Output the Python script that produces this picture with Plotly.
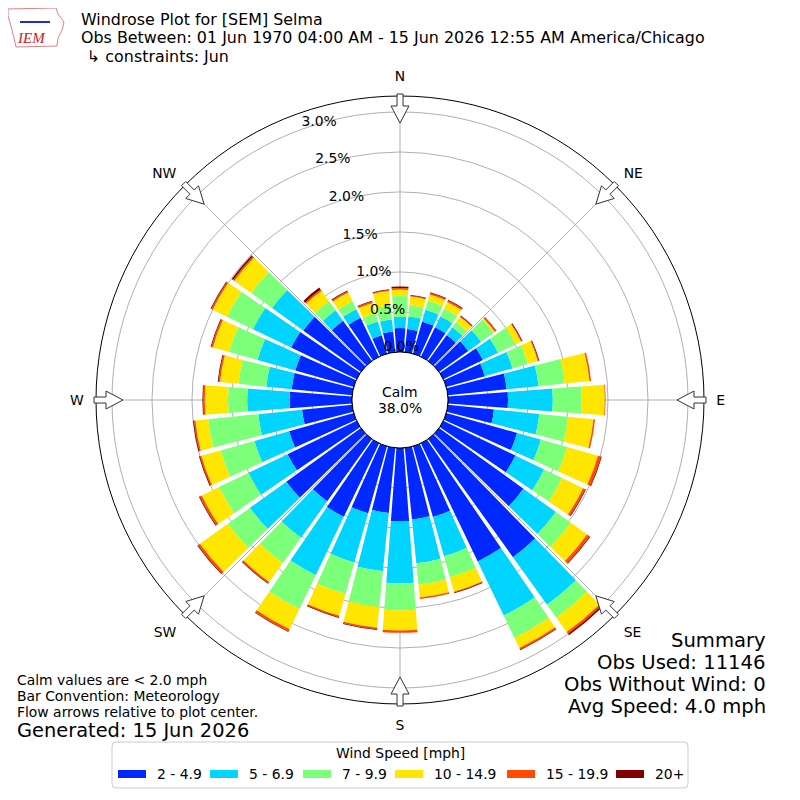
import numpy as np
import plotly.graph_objects as go

# wind direction bins (degrees, meteorological convention)
directions = list(range(0, 360, 10))
compass = ['N', 'NE', 'E', 'SE', 'S', 'SW', 'W', 'NW']
compass_deg = [0, 45, 90, 135, 180, 225, 270, 315]

speed_bins = ['2 - 4.9', '5 - 6.9', '7 - 9.9', '10 - 14.9', '15 - 19.9', '20+']
bin_colors = ['#0028ff', '#00d4ff', '#7cff79', '#ffe600', '#ff4a00', '#800000']

# percent of observations per direction for each speed bin
pct_2_5 = [0.30, 0.29, 0.42, 0.41, 0.40, 0.45, 0.55, 0.50, 0.74, 0.75, 0.58, 0.92,
           1.00, 1.30, 1.82, 1.64, 0.92, 0.90, 0.92, 0.82, 0.87, 1.02, 0.96, 1.15,
           0.96, 0.84, 0.63, 0.78, 0.76, 0.76, 0.91, 0.89, 0.62, 0.54, 0.24, 0.26]
pct_5_7 = [0.14, 0.16, 0.15, 0.15, 0.12, 0.20, 0.21, 0.36, 0.40, 0.56, 0.57, 0.31,
           0.40, 0.50, 0.73, 0.75, 0.51, 0.55, 0.77, 0.73, 0.64, 0.81, 0.56, 0.56,
           0.54, 0.45, 0.55, 0.53, 0.32, 0.49, 0.53, 0.48, 0.16, 0.12, 0.18, 0.15]
pct_7_10 = [0.26, 0.14, 0.12, 0.11, 0.08, 0.19, 0.24, 0.20, 0.33, 0.36, 0.36, 0.34,
            0.25, 0.23, 0.20, 0.31, 0.27, 0.27, 0.34, 0.45, 0.41, 0.47, 0.39, 0.34,
            0.41, 0.44, 0.63, 0.24, 0.35, 0.37, 0.36, 0.32, 0.14, 0.11, 0.11, 0.18]
pct_10_15 = [0.08, 0.11, 0.08, 0.09, 0.08, 0.02, 0.08, 0.13, 0.31, 0.29, 0.32, 0.40,
             0.29, 0.25, 0.22, 0.14, 0.19, 0.16, 0.25, 0.26, 0.28, 0.28, 0.29, 0.43,
             0.24, 0.25, 0.16, 0.29, 0.23, 0.21, 0.20, 0.26, 0.16, 0.12, 0.13, 0.18]
pct_15_20 = [0.02, 0.01, 0.02, 0.02, 0.01, 0.02, 0.01, 0.01, 0.02, 0.01, 0.02, 0.04,
             0.03, 0.04, 0.03, 0.02, 0.01, 0.02, 0.03, 0.02, 0.02, 0.03, 0.02, 0.03,
             0.03, 0.02, 0.02, 0.02, 0.02, 0.02, 0.02, 0.02, 0.02, 0.02, 0.02, 0.01]
pct_20up = [0.02, 0.01, 0.01, 0.01, 0.01, 0.005, 0.01, 0.01, 0.0, 0.0, 0.0, 0.01,
            0.01, 0.01, 0.02, 0.01, 0.01, 0.0, 0.0, 0.01, 0.01, 0.01, 0.01, 0.01,
            0.01, 0.01, 0.01, 0.01, 0.01, 0.01, 0.01, 0.02, 0.03, 0.01, 0.01, 0.01]

radial_ticks = [0.0, 0.5, 1.0, 1.5, 2.0, 2.5, 3.0]
radial_labels = ['%.1f%%' % t for t in radial_ticks]
calm_pct = 38.0

series = [pct_2_5, pct_5_7, pct_7_10, pct_10_15, pct_15_20, pct_20up]

FONT = 'DejaVu Sans'
W = H = 800
OFF = 8          # page body margin in the browser
CX, CY = 400, 400


def px(x, y):
    # screenshot pixel -> paper coordinate
    return (x - OFF) / W, 1 - (y - OFF) / H


fig = go.Figure()
for name, vals, col in zip(speed_bins, series, bin_colors):
    fig.add_trace(go.Barpolar(r=vals, theta=directions, name=name, width=8.6,
                              marker=dict(color=col, line=dict(width=0)),
                              showlegend=False))

# black edge of the calm hole
ring = np.linspace(0, 360, 361)
fig.add_trace(go.Scatterpolar(r=[0] * len(ring), theta=ring, mode='lines',
                              line=dict(color='black', width=1),
                              hoverinfo='skip', showlegend=False))

# radial tick labels, matplotlib style (along a line ~20 deg west of north)
fig.add_trace(go.Scatterpolar(r=radial_ticks, theta=[340] * len(radial_ticks),
                              mode='text', text=radial_labels,
                              textposition='top right',
                              textfont=dict(size=13.9, family=FONT, color='black'),
                              hoverinfo='skip', showlegend=False))

dx0, dy0 = px(96, 704)
dx1, dy1 = px(704, 96)
fig.update_layout(
    width=W, height=H,
    margin=dict(l=0, r=0, t=0, b=0),
    paper_bgcolor='white',
    font=dict(family=FONT, size=13.9, color='black'),
    barmode='stack',
    polar=dict(
        domain=dict(x=[dx0, dx1], y=[dy0, dy1]),
        bgcolor='white',
        hole=0.158,
        radialaxis=dict(range=[0, 3.2], tickvals=radial_ticks,
                        showticklabels=False, angle=110,
                        showline=False, ticks='', gridcolor='#b0b0b0',
                        gridwidth=1, layer='above traces'),
        angularaxis=dict(direction='clockwise', rotation=90,
                         tickvals=compass_deg, ticktext=compass,
                         ticks='outside', ticklen=9,
                         tickcolor='rgba(0,0,0,0)',
                         showline=True, linecolor='black', linewidth=1,
                         gridcolor='#b0b0b0', gridwidth=1,
                         layer='above traces',
                         tickfont=dict(size=13.9, family=FONT)),
    ),
)

shapes = []
# inward flow arrows on the compass points
for d in compass_deg:
    a = np.deg2rad(d)
    u = np.array([np.sin(a), -np.cos(a)])
    v = np.array([np.cos(a), np.sin(a)])
    outline = [(306, -3), (294, -3), (294, -9), (277, 0), (294, 9), (294, 3), (306, 3)]
    pts = [np.array([CX, CY]) + r * u + s * v for r, s in outline]
    path = 'M ' + ' L '.join('%.4f %.4f' % px(p[0], p[1]) for p in pts) + ' Z'
    shapes.append(dict(type='path', xref='paper', yref='paper', path=path,
                       fillcolor='white', line=dict(color='#333333', width=1)))

# legend box with rounded corners
bx0, bx1, by0, by1, rr = 112, 688, 742, 788, 4
corner = [(bx0 + rr, by0), (bx1 - rr, by0), (bx1, by0), (bx1, by0 + rr),
          (bx1, by1 - rr), (bx1, by1), (bx1 - rr, by1), (bx0 + rr, by1),
          (bx0, by1), (bx0, by1 - rr), (bx0, by0 + rr), (bx0, by0)]
P = ['%.4f %.4f' % px(x, y) for x, y in corner]
box_path = ('M %s L %s Q %s %s L %s Q %s %s L %s Q %s %s L %s Q %s %s Z'
            % (P[0], P[1], P[2], P[3], P[4], P[5], P[6], P[7], P[8], P[9],
               P[10], P[11], P[0]))
shapes.append(dict(type='path', xref='paper', yref='paper', path=box_path,
                   line=dict(color='#cccccc', width=1), fillcolor='white'))
legend_x = [118, 210, 303, 395, 507, 616]
for lx, col in zip(legend_x, bin_colors):
    a0, b0 = px(lx, 770)
    a1, b1 = px(lx + 28, 778)
    shapes.append(dict(type='rect', xref='paper', yref='paper', x0=a0, y0=b0, x1=a1, y1=b1,
                       line=dict(width=0), fillcolor=col))

# IEM logo outline
logo = [(8, 9), (56, 8), (58, 14), (64, 22), (62, 30), (58, 38), (57, 46),
        (16, 47), (14, 38), (11, 26), (8, 16)]
shapes.append(dict(type='path', xref='paper', yref='paper',
                   path='M ' + ' L '.join('%.4f %.4f' % px(x, y) for x, y in logo) + ' Z',
                   line=dict(color='#e08080', width=1), fillcolor='white'))
a0, b0 = px(20, 22)
a1, b1 = px(50, 22)
shapes.append(dict(type='line', xref='paper', yref='paper', x0=a0, y0=b0, x1=a1, y1=b1,
                   line=dict(color='#2030c0', width=2)))

annotations = []


def note(text, x, y, size=13.9, xanchor='left', color='black', family=FONT):
    X, Y = px(x, y)
    annotations.append(dict(text=text, x=X, y=Y, xref='paper', yref='paper',
                            xanchor=xanchor, yanchor='middle', showarrow=False,
                            font=dict(size=size, color=color, family=family)))


note('Windrose Plot for [SEM] Selma', 79, 19.5, 15.9)
note('Obs Between: 01 Jun 1970 04:00 AM - 15 Jun 2026 12:55 AM America/Chicago', 79, 38, 15.9)
note('↳ constraints: Jun', 85, 56.5, 15.9)
note('<i>IEM</i>', 31, 38, 15, 'center', '#d02020', 'Liberation Serif')

note('Calm values are < 2.0 mph', 15, 680, 13.9)
note('Bar Convention: Meteorology', 15, 696, 13.9)
note('Flow arrows relative to plot center.', 15, 712, 13.9)
note('Generated: 15 Jun 2026', 15, 730, 19.4)

note('Summary', 768, 640, 19.6, 'right')
note('Obs Used: 11146', 768, 662, 19.6, 'right')
note('Obs Without Wind: 0', 768, 684, 19.6, 'right')
note('Avg Speed: 4.0 mph', 768, 706, 19.6, 'right')

note('Calm', 400, 392, 13.9, 'center')
note('%.1f%%' % calm_pct, 400, 408, 13.9, 'center')

note('Wind Speed [mph]', 400, 753, 13.9, 'center')
for lx, lab in zip(legend_x, speed_bins):
    note(lab, lx + 37, 774, 13.9)

fig.update_layout(shapes=shapes, annotations=annotations)
fig.write_html('out.html')
